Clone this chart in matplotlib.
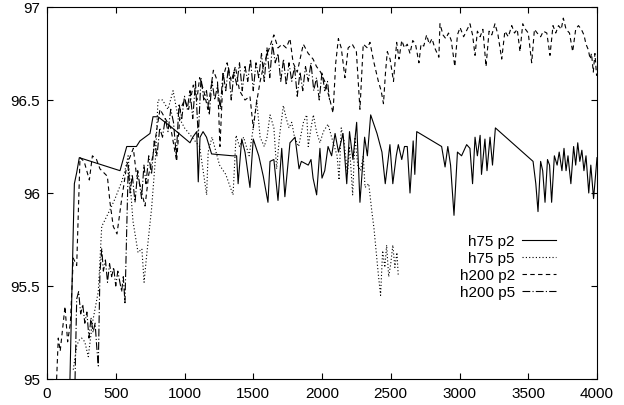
import matplotlib
matplotlib.use("Agg")
import matplotlib.pyplot as plt

plt.rcParams['font.family'] = ['Liberation Sans', 'DejaVu Sans']

# h75 p2 (solid)
h75_p2_x = [167, 191, 199, 216, 235, 531, 580, 650, 676, 749, 771, 807, 895, 1040, 1060, 1089, 1100, 1113,
            1135, 1160, 1197, 1349, 1379, 1390, 1416, 1440, 1476, 1500, 1540, 1573, 1607, 1622, 1650, 1680,
            1707, 1730, 1767, 1804, 1833, 1850, 1900, 1920, 1935, 1961, 1985, 2000, 2020, 2044, 2070, 2095,
            2120, 2153, 2180, 2200, 2225, 2252, 2276, 2310, 2330, 2354, 2400, 2436, 2460, 2494, 2515, 2540,
            2555, 2580, 2600, 2620, 2640, 2663, 2675, 2689, 2870, 2895, 2915, 2935, 2960, 2985, 3015, 3052,
            3076, 3095, 3113, 3130, 3150, 3160, 3185, 3200, 3222, 3240, 3261, 3535, 3555, 3571, 3590, 3605,
            3622, 3640, 3655, 3670, 3690, 3710, 3725, 3745, 3760, 3775, 3789, 3810, 3830, 3845, 3860, 3875,
            3890, 3905, 3920, 3940, 3955, 3975, 3990, 4000]
h75_p2_y = [95.0, 95.8, 96.05, 96.11, 96.19, 96.12, 96.25, 96.25, 96.28, 96.32, 96.41, 96.41, 96.36, 96.27,
            96.3, 96.33, 96.06, 96.3, 96.33, 96.3, 96.21, 96.2, 96.2, 96.05, 96.29, 96.22, 96.03, 96.29,
            96.2, 96.09, 95.95, 96.17, 96.18, 95.96, 96.24, 95.98, 96.27, 96.3, 96.13, 96.17, 96.15, 96.18,
            96.08, 95.99, 96.24, 96.08, 96.12, 96.25, 96.2, 96.32, 96.22, 96.32, 96.05, 96.33, 96.18, 96.38,
            95.95, 96.3, 96.2, 96.42, 96.32, 96.22, 96.05, 96.26, 96.05, 96.2, 96.26, 96.18, 96.25, 96.25,
            96.0, 96.28, 96.1, 96.33, 96.25, 96.14, 96.25, 96.15, 95.88, 96.22, 96.2, 96.26, 96.24, 96.05,
            96.3, 96.2, 96.31, 96.1, 96.29, 96.12, 96.3, 96.15, 96.35, 96.17, 96.05, 95.9, 96.17, 96.12,
            95.95, 96.18, 96.15, 95.95, 96.2, 96.15, 96.22, 96.12, 96.24, 96.12, 96.2, 96.05, 96.25, 96.15,
            96.27, 96.17, 96.23, 96.12, 96.2, 96.0, 96.15, 95.97, 96.1, 96.19]

# h75 p5 (dotted)
h75_p5_x = [191, 216, 235, 252, 275, 300, 330, 373, 398, 458, 495, 543, 567, 590, 625, 662, 690, 706, 724,
            761, 790, 807, 840, 880, 917, 950, 1000, 1076, 1110, 1161, 1172, 1200, 1255, 1300, 1353, 1375,
            1400, 1430, 1470, 1500, 1525, 1550, 1580, 1600, 1622, 1650, 1670, 1690, 1719, 1740, 1760, 1780,
            1800, 1830, 1865, 1889, 1900, 1920, 1937, 1960, 1985, 2010, 2044, 2070, 2090, 2110, 2124, 2140,
            2160, 2185, 2200, 2223, 2240, 2260, 2280, 2300, 2313, 2340, 2361, 2378, 2392, 2410, 2426, 2441,
            2457, 2470, 2485, 2500, 2515, 2530, 2545, 2555]
h75_p5_y = [95.05, 95.18, 95.21, 95.22, 95.2, 95.12, 95.3, 95.47, 95.82, 95.91, 95.97, 96.06, 96.12, 96.2,
            95.85, 95.68, 95.7, 95.52, 95.66, 95.92, 96.2, 96.5, 96.5, 96.45, 96.55, 96.42, 96.35, 96.28,
            96.25, 95.99, 96.22, 96.3, 96.15, 96.1, 95.99, 96.31, 96.25, 96.3, 96.2, 96.35, 96.5, 96.3,
            96.25, 96.3, 96.42, 96.35, 96.13, 96.3, 96.47, 96.4, 96.35, 96.38, 96.3, 96.25, 96.38, 96.42,
            96.25, 96.35, 96.42, 96.33, 96.27, 96.33, 96.37, 96.3, 96.25, 96.2, 96.07, 96.35, 96.28, 96.1,
            96.25, 95.99, 96.3, 96.15, 96.12, 96.2, 96.03, 96.05, 95.91, 95.81, 95.7, 95.56, 95.45, 95.69,
            95.6, 95.72, 95.55, 95.62, 95.72, 95.6, 95.68, 95.55]

# h200 p2 (dashed)
h200_p2_x = [70, 82, 96, 131, 150, 170, 191, 216, 240, 270, 308, 330, 360, 385, 439, 458, 482, 509, 540, 580,
             628, 650, 677, 713, 740, 770, 800, 822, 860, 900, 943, 970, 1000, 1030, 1064, 1090, 1110, 1140,
             1170, 1210, 1240, 1258, 1280, 1310, 1340, 1370, 1400, 1440, 1476, 1500, 1525, 1550, 1580, 1622,
             1650, 1680, 1710, 1740, 1767, 1790, 1820, 1864, 1900, 1935, 1960, 1990, 2020, 2058, 2080, 2100,
             2119, 2140, 2167, 2190, 2220, 2250, 2276, 2300, 2330, 2349, 2375, 2410, 2430, 2447, 2462, 2475,
             2495, 2520, 2543, 2560, 2580, 2600, 2620, 2640, 2660, 2680, 2705, 2720, 2740, 2761, 2780, 2800,
             2820, 2850, 2858, 2880, 2900, 2920, 2940, 2966, 2985, 3004, 3030, 3050, 3076, 3095, 3113, 3130,
             3150, 3170, 3193, 3215, 3235, 3258, 3280, 3307, 3330, 3355, 3380, 3400, 3420, 3440, 3460, 3480,
             3500, 3525, 3545, 3565, 3590, 3610, 3635, 3658, 3680, 3700, 3720, 3740, 3755, 3775, 3800, 3823,
             3845, 3865, 3886, 3905, 3920, 3937, 3950, 3960, 3973, 3985, 3997]
h200_p2_y = [95.0, 95.22, 95.15, 95.39, 95.2, 95.3, 95.65, 95.61, 96.19, 96.17, 96.07, 96.2, 96.18, 96.13,
             96.09, 95.95, 95.82, 95.78, 95.95, 96.15, 96.24, 96.1, 96.04, 95.93, 96.1, 96.2, 96.35, 96.45,
             96.4, 96.35, 96.17, 96.45, 96.5, 96.45, 96.58, 96.5, 96.62, 96.55, 96.45, 96.66, 96.6, 96.25,
             96.62, 96.7, 96.6, 96.68, 96.55, 96.5, 96.52, 96.35, 96.49, 96.6, 96.7, 96.79, 96.85, 96.78,
             96.8, 96.78, 96.83, 96.7, 96.65, 96.8, 96.75, 96.72, 96.68, 96.65, 96.6, 96.5, 96.43, 96.7,
             96.83, 96.78, 96.62, 96.78, 96.8, 96.76, 96.45, 96.8, 96.78, 96.81, 96.71, 96.6, 96.55, 96.48,
             96.65, 96.76, 96.72, 96.6, 96.81, 96.72, 96.82, 96.78, 96.8, 96.75, 96.82, 96.8, 96.7, 96.8,
             96.79, 96.85, 96.8, 96.83, 96.78, 96.73, 96.91, 96.85, 96.83, 96.86, 96.82, 96.68, 96.85, 96.89,
             96.84, 96.87, 96.91, 96.85, 96.74, 96.87, 96.84, 96.88, 96.68, 96.87, 96.85, 96.91, 96.85, 96.72,
             96.87, 96.84, 96.9, 96.86, 96.88, 96.76, 96.91, 96.88, 96.86, 96.7, 96.88, 96.86, 96.84, 96.87,
             96.86, 96.74, 96.9, 96.86, 96.9, 96.88, 96.94, 96.88, 96.86, 96.76, 96.88, 96.9, 96.88, 96.85,
             96.8, 96.77, 96.72, 96.75, 96.65, 96.75, 96.63]

# h200 p5 (dash-dot)
h200_p5_x = [204, 216, 230, 245, 260, 275, 290, 305, 320, 335, 350, 361, 373, 385, 398, 410, 425, 440, 455,
             470, 485, 500, 515, 530, 543, 555, 567, 591, 605, 620, 640, 660, 688, 705, 720, 740, 760, 780,
             800, 820, 840, 860, 880, 900, 920, 940, 960, 980, 1000, 1020, 1040, 1060, 1080, 1100, 1120, 1140,
             1160, 1180, 1200, 1220, 1240, 1260, 1280, 1300, 1320, 1340, 1360, 1380, 1400, 1420, 1440, 1460,
             1480, 1500, 1520, 1540, 1560, 1580, 1600, 1620, 1640, 1660, 1680, 1700, 1720, 1740, 1760, 1780,
             1800, 1820, 1840, 1860, 1880, 1900, 1920, 1940, 1960, 1980, 2000, 2020, 2040, 2055]
h200_p5_y = [95.0, 95.43, 95.47, 95.35, 95.4, 95.3, 95.36, 95.22, 95.33, 95.25, 95.3, 95.18, 95.07, 95.57,
             95.7, 95.58, 95.64, 95.52, 95.62, 95.55, 95.6, 95.5, 95.58, 95.52, 95.47, 95.55, 95.41, 96.15,
             96.0, 96.1, 95.95, 96.12, 95.97, 96.15, 96.05, 96.2, 96.1, 96.28, 96.2, 96.35, 96.3, 96.4, 96.33,
             96.45, 96.38, 96.2, 96.48, 96.4, 96.52, 96.45, 96.55, 96.4, 96.6, 96.3, 96.62, 96.5, 96.55, 96.42,
             96.6, 96.5, 96.58, 96.45, 96.65, 96.55, 96.68, 96.5, 96.65, 96.58, 96.7, 96.55, 96.68, 96.6,
             96.72, 96.55, 96.7, 96.62, 96.75, 96.6, 96.78, 96.62, 96.8, 96.7, 96.75, 96.6, 96.72, 96.58, 96.7,
             96.6, 96.68, 96.52, 96.65, 96.55, 96.68, 96.6, 96.7, 96.55, 96.62, 96.5, 96.65, 96.55, 96.6, 96.5]

fig = plt.figure(figsize=(6.24, 4.06), dpi=100)
ax = fig.add_axes([47 / 624, 1 - 380 / 406, 550 / 624, 372 / 406])

lw = 0.8
ax.plot(h75_p2_x, h75_p2_y, color='black', lw=lw, ls='-', label='h75 p2')
ax.plot(h75_p5_x, h75_p5_y, color='black', lw=lw, ls=(0, (1, 2)), label='h75 p5')
ax.plot(h200_p2_x, h200_p2_y, color='black', lw=lw, ls=(0, (4, 3)), label='h200 p2')
ax.plot(h200_p5_x, h200_p5_y, color='black', lw=lw, ls=(0, (7, 2, 1, 2)), label='h200 p5')

ax.set_xlim(0, 4000)
ax.set_ylim(95, 97)
ax.set_xticks(range(0, 4001, 500))
ax.set_yticks([95, 95.5, 96, 96.5, 97])
ax.set_yticklabels(['95', '95.5', '96', '96.5', '97'])
ax.tick_params(direction='in', top=True, right=True, length=4, width=0.8, labelsize=11)
ax.tick_params(axis='x', pad=5)
ax.tick_params(axis='y', pad=5)
for s in ax.spines.values():
    s.set_linewidth(0.8)

ax.legend(loc='upper right', bbox_to_anchor=(556 / 624, 1 - 235 / 406), bbox_transform=fig.transFigure,
          frameon=False, markerfirst=False, fontsize=11, handlelength=2.2, handletextpad=0.5,
          labelspacing=0.2, borderaxespad=0, borderpad=0)

fig.savefig('out.png', dpi=100)
